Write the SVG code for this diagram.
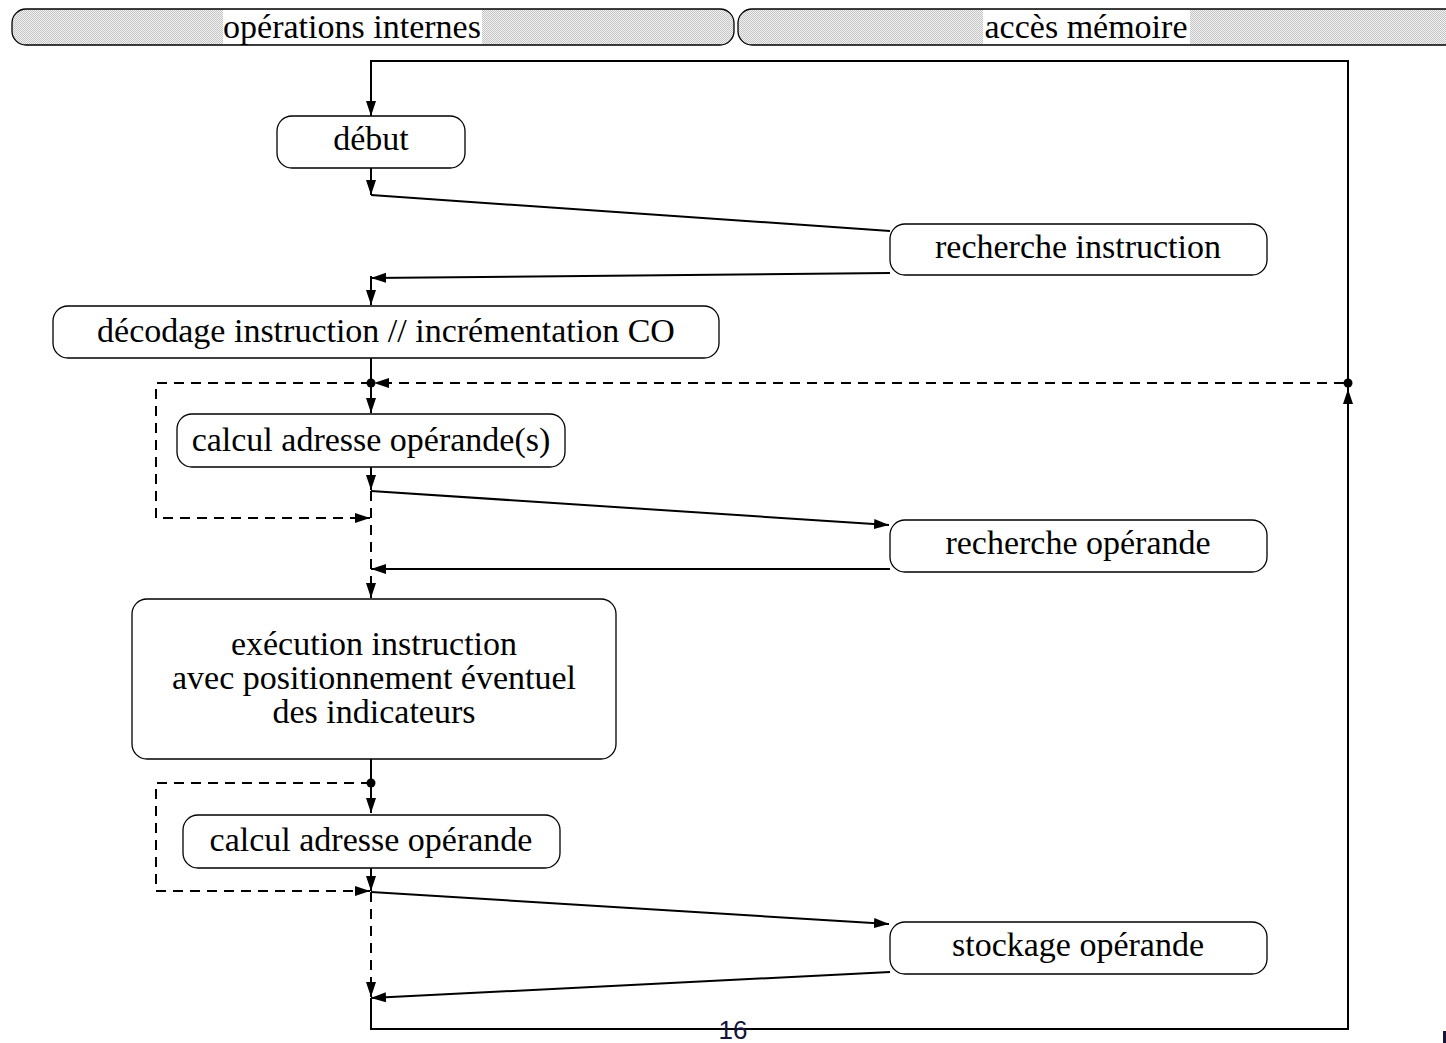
<svg xmlns="http://www.w3.org/2000/svg" width="1446" height="1043" viewBox="0 0 1446 1043">
  <style>
    .box { fill: #ffffff; stroke: #000000; stroke-width: 1.3; }
    .lbl { font-family: "Liberation Serif", "Times New Roman", serif; font-size: 34px; fill: #000000; text-anchor: middle; }
    .wire { fill: none; stroke: #000000; stroke-width: 2; }
    .dash { fill: none; stroke: #000000; stroke-width: 2; stroke-dasharray: 10 7; }
    .band { fill: url(#dots); stroke: #000000; stroke-width: 1.3; }
  </style>
  <defs>
    <pattern id="dots" width="2" height="2" patternUnits="userSpaceOnUse">
      <rect width="2" height="2" fill="#f2f2f2"/>
      <rect width="1" height="1" fill="#c4c4c4"/>
      <rect x="1" y="1" width="1" height="1" fill="#c4c4c4"/>
    </pattern>
    <marker id="arr" markerUnits="userSpaceOnUse" markerWidth="16" markerHeight="12" refX="15" refY="5" orient="auto">
      <path d="M0,0 L15,5 L0,10 Z" fill="#000000"/>
    </marker>
  </defs>

  <!-- column headers -->
  <g id="header-internal">
    <rect class="band" x="12" y="9" width="722" height="36" rx="14"/>
    <rect x="223" y="10" width="259" height="34" fill="#ffffff"/>
    <text class="lbl" x="352" y="38">opérations internes</text>
  </g>
  <g id="header-memory">
    <rect class="band" x="738" y="9" width="760" height="36" rx="14"/>
    <rect x="983" y="10" width="207" height="34" fill="#ffffff"/>
    <text class="lbl" x="1086" y="38">accès mémoire</text>
  </g>

  <!-- connectors -->
  <g id="connectors">
    <path class="wire" d="M371,998 V1029 H1348 V389" marker-end="url(#arr)"/>
    <path class="wire" d="M1348,389 V61 H371 V116" marker-end="url(#arr)"/>
    <path class="wire" d="M371,168 V195" marker-end="url(#arr)"/>
    <path class="wire" d="M371,195 L890,231"/>
    <path class="wire" d="M890,273 L371,278" marker-end="url(#arr)"/>
    <path class="wire" d="M371,276 V305" marker-end="url(#arr)"/>
    <path class="wire" d="M371,358 V413" marker-end="url(#arr)"/>
    <path class="dash" d="M1344,383 H374" marker-end="url(#arr)"/>
    <path class="dash" d="M371,383 H156 V518 H370" marker-end="url(#arr)"/>
    <path class="wire" d="M371,467 V490" marker-end="url(#arr)"/>
    <path class="wire" d="M371,491 L889,525" marker-end="url(#arr)"/>
    <path class="dash" d="M371,491 V598" marker-end="url(#arr)"/>
    <path class="wire" d="M890,569 H371" marker-end="url(#arr)"/>
    <path class="wire" d="M371,759 V813" marker-end="url(#arr)"/>
    <path class="dash" d="M371,783 H156 V891 H370" marker-end="url(#arr)"/>
    <path class="wire" d="M371,868 V891" marker-end="url(#arr)"/>
    <path class="wire" d="M371,892 L889,924" marker-end="url(#arr)"/>
    <path class="dash" d="M371,892 V997" marker-end="url(#arr)"/>
    <path class="wire" d="M890,972 L371,998" marker-end="url(#arr)"/>
    <circle cx="371" cy="383" r="4.5" fill="#000000"/>
    <circle cx="1348" cy="383" r="4.5" fill="#000000"/>
    <circle cx="371" cy="783" r="4.5" fill="#000000"/>
  </g>

  <!-- nodes -->
  <g id="debut">
    <rect class="box" x="277" y="116" width="188" height="52" rx="15"/>
    <text class="lbl" x="371" y="150">début</text>
  </g>
  <g id="recherche-instruction">
    <rect class="box" x="890" y="224" width="377" height="51" rx="15"/>
    <text class="lbl" x="1078" y="258">recherche instruction</text>
  </g>
  <g id="decodage">
    <rect class="box" x="53" y="306" width="666" height="52" rx="15"/>
    <text class="lbl" x="386" y="342">décodage instruction // incrémentation CO</text>
  </g>
  <g id="calcul-adresse-operandes">
    <rect class="box" x="177" y="414" width="388" height="53" rx="15"/>
    <text class="lbl" x="371" y="451">calcul adresse opérande(s)</text>
  </g>
  <g id="recherche-operande">
    <rect class="box" x="890" y="520" width="377" height="52" rx="15"/>
    <text class="lbl" x="1078" y="554">recherche opérande</text>
  </g>
  <g id="execution">
    <rect class="box" x="132" y="599" width="484" height="160" rx="15"/>
    <text class="lbl" x="374" y="655">exécution instruction</text>
    <text class="lbl" x="374" y="689">avec positionnement éventuel</text>
    <text class="lbl" x="374" y="723">des indicateurs</text>
  </g>
  <g id="calcul-adresse-operande">
    <rect class="box" x="183" y="815" width="377" height="53" rx="15"/>
    <text class="lbl" x="371" y="851">calcul adresse opérande</text>
  </g>
  <g id="stockage-operande">
    <rect class="box" x="890" y="922" width="377" height="52" rx="15"/>
    <text class="lbl" x="1078" y="956">stockage opérande</text>
  </g>

  <!-- page footer -->
  <text x="733" y="1039" font-family="Liberation Sans, Arial, sans-serif" font-size="26" fill="#14143c" text-anchor="middle">16</text>
  <rect x="1443" y="1031" width="3" height="12" fill="#14143c"/>
</svg>
